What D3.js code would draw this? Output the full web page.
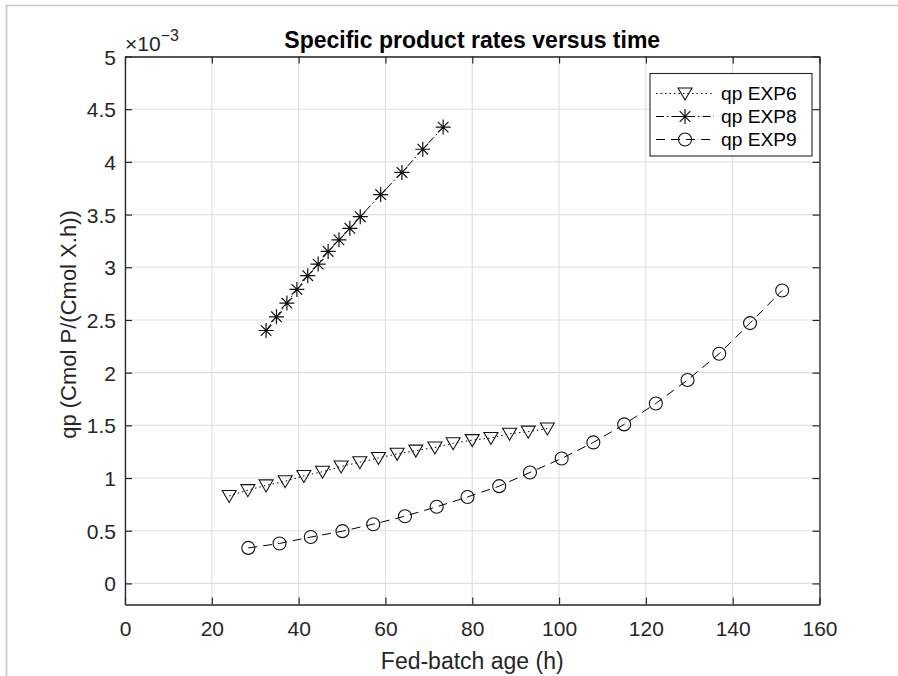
<!DOCTYPE html>
<html><head><meta charset="utf-8">
<script src="https://cdn.jsdelivr.net/npm/d3@7"></script>
<style>body{margin:0;background:#fff}svg{display:block}text{font-family:Arial,"Liberation Sans",sans-serif}</style>
</head><body><svg id="c" width="898" height="676"></svg>
<script>
// values shown in units of 10^-3
const exponent = -3;
const xTicks = [0,20,40,60,80,100,120,140,160];
const yTicks = [0,0.5,1,1.5,2,2.5,3,3.5,4,4.5,5];
const seriesNames = ["qp EXP6","qp EXP8","qp EXP9"];
const exp6Time = [24.0,28.3,32.5,36.9,41.2,45.5,49.8,54.1,58.4,62.7,67.0,71.4,75.6,80.0,84.3,88.6,92.9,97.3];
const exp6Qp   = [0.83,0.885,0.93,0.97,1.02,1.06,1.11,1.15,1.19,1.23,1.26,1.29,1.33,1.36,1.38,1.42,1.44,1.47];
const exp8Time = [32.5,34.9,37.3,39.6,42.1,44.5,46.8,49.3,51.8,54.2,58.9,63.8,68.6,73.3];
const exp8Qp   = [2.40,2.53,2.66,2.79,2.92,3.03,3.15,3.26,3.37,3.48,3.69,3.90,4.12,4.33];
const exp9Time = [28.4,35.6,42.8,50.1,57.2,64.5,71.8,78.9,86.2,93.3,100.6,107.9,115.0,122.3,129.6,136.9,144.0,151.4];
const exp9Qp   = [0.337,0.379,0.44,0.496,0.562,0.638,0.727,0.82,0.923,1.053,1.186,1.338,1.509,1.708,1.93,2.18,2.47,2.78];

const svg = d3.select("#c");
// window frame
svg.append("path").attr("d","M6.5,676V5.5H898").attr("fill","none").attr("stroke","#c6c6c6").attr("stroke-width",1.6);

const L=125,R=819.5,T=56.5,B=604.5;
const x = d3.scaleLinear().domain([0,160]).range([L,R]);
const y = d3.scaleLinear().domain([-0.2,5]).range([B,T]);
const axc="#262626", fs=21;

// grid
const g = svg.append("g");
g.selectAll(".gx").data(xTicks).join("line").attr("x1",d=>x(d)).attr("x2",d=>x(d)).attr("y1",T).attr("y2",B).attr("stroke","#dfdfdf").attr("stroke-width",1.1);
g.selectAll(".gy").data(yTicks).join("line").attr("y1",d=>y(d)).attr("y2",d=>y(d)).attr("x1",L).attr("x2",R).attr("stroke","#dfdfdf").attr("stroke-width",1.1);

// axes with inward ticks
const tl=7;
const ax = svg.append("g").attr("transform",`translate(0,${B})`).call(d3.axisBottom(x).tickValues(xTicks).tickSizeInner(-tl).tickSizeOuter(0).tickPadding(17).tickFormat(d3.format("d")));
const axT = svg.append("g").attr("transform",`translate(0,${T})`).call(d3.axisTop(x).tickValues(xTicks).tickSizeInner(-tl).tickSizeOuter(0).tickFormat(""));
const ay = svg.append("g").attr("transform",`translate(${L},0)`).call(d3.axisLeft(y).tickValues(yTicks).tickSizeInner(-tl).tickSizeOuter(0).tickPadding(9).tickFormat(d=>String(d)));
const ayR = svg.append("g").attr("transform",`translate(${R},0)`).call(d3.axisRight(y).tickValues(yTicks).tickSizeInner(-tl).tickSizeOuter(0).tickFormat(""));
[ax,axT,ay,ayR].forEach(a=>{a.select(".domain").attr("stroke",axc).attr("stroke-width",1.3);a.selectAll(".tick line").attr("stroke",axc).attr("stroke-width",1.2);a.selectAll("text").attr("fill",axc).attr("font-size",fs).attr("font-family","Arial, 'Liberation Sans', sans-serif");});
ay.selectAll("text").attr("dy","0.36em");

// exponent label
const ex = svg.append("text").attr("x",L).attr("y",51).attr("fill",axc).attr("font-size",fs);
ex.append("tspan").text("\u00d710");
ex.append("tspan").attr("dy",-10).attr("font-size",16).text("\u2212" + String(-exponent));

// title & labels
svg.append("text").attr("x",(L+R)/2).attr("y",48).attr("text-anchor","middle").attr("font-weight","bold").attr("font-size",23).attr("fill","#000").text("Specific product rates versus time");
svg.append("text").attr("x",(L+R)/2).attr("y",669).attr("text-anchor","middle").attr("font-size",23).attr("fill",axc).text("Fed-batch age (h)");
svg.append("text").attr("transform",`translate(76,${(T+B)/2-6}) rotate(-90)`).attr("text-anchor","middle").attr("font-size",22).attr("fill",axc).text("qp (Cmol P/(Cmol X.h))");

// markers
function marker(sel,type){
  if(type==="tri") sel.append("path").attr("d","M-7,-5.5L7,-5.5L0,6.5Z").attr("fill","none").attr("stroke","#111").attr("stroke-width",1.1);
  else if(type==="circ") sel.append("circle").attr("r",6.5).attr("fill","none").attr("stroke","#111").attr("stroke-width",1.1);
  else sel.append("path").attr("d","M0,-7.5V7.5M-7.5,0H7.5M-5.3,-5.3L5.3,5.3M-5.3,5.3L5.3,-5.3").attr("fill","none").attr("stroke","#111").attr("stroke-width",1.2);
}
const series = [
  {name:seriesNames[0],t:exp6Time,v:exp6Qp,dash:"1.5,3",m:"tri"},
  {name:seriesNames[1],t:exp8Time,v:exp8Qp,dash:"8,3,1.5,3",m:"star"},
  {name:seriesNames[2],t:exp9Time,v:exp9Qp,dash:"9,6",m:"circ"}
];
const line = d3.line().x(d=>x(d[0])).y(d=>y(d[1]));
series.forEach(s=>{
  const pts = s.t.map((t,i)=>[t,s.v[i]]);
  svg.append("path").datum(pts).attr("d",line).attr("fill","none").attr("stroke","#000").attr("stroke-width",1).attr("stroke-dasharray",s.dash);
  svg.append("g").selectAll("g").data(pts).join("g").attr("transform",d=>`translate(${x(d[0])},${y(d[1])})`).each(function(){marker(d3.select(this),s.m);});
});

// legend
const lg = svg.append("g");
const lx0=650, lx1=812, ly0=73.5, ly1=156;
lg.append("rect").attr("x",lx0).attr("y",ly0).attr("width",lx1-lx0).attr("height",ly1-ly0).attr("fill","#fff").attr("stroke","#262626").attr("stroke-width",1.1);
series.forEach((s,i)=>{
  const yy = 93.5+i*23;
  lg.append("line").attr("x1",656).attr("x2",714).attr("y1",yy).attr("y2",yy).attr("stroke","#000").attr("stroke-width",1).attr("stroke-dasharray",s.dash);
  const mg = lg.append("g").attr("transform",`translate(685,${yy})`); marker(mg,s.m);
  lg.append("text").attr("x",721).attr("y",yy).attr("dy","0.36em").attr("font-size",19.2).attr("fill","#000").text(s.name);
});
</script></body></html>
